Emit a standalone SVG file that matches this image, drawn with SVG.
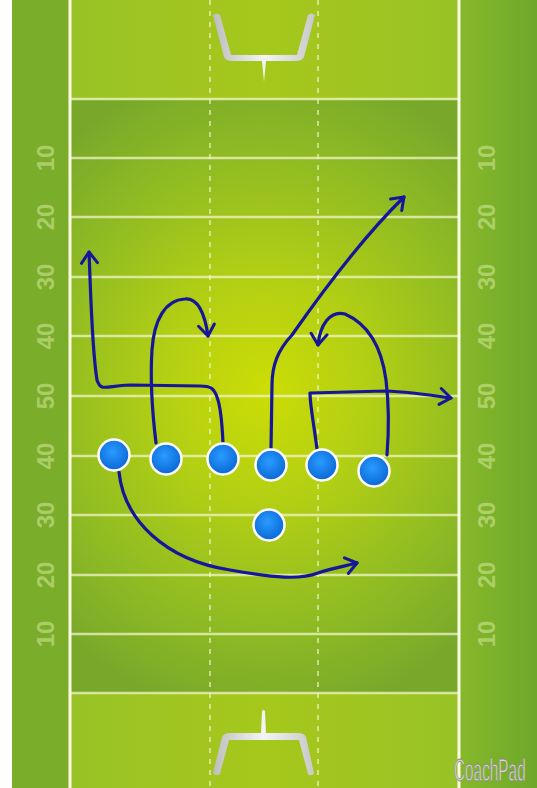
<svg xmlns="http://www.w3.org/2000/svg" width="537" height="788" viewBox="0 0 537 788">
<defs>
  <radialGradient id="fieldG" gradientUnits="userSpaceOnUse" cx="265" cy="390" r="330" gradientTransform="translate(265 390) scale(0.9 1) translate(-265 -390)">
    <stop offset="0" stop-color="#ccdd06"/>
    <stop offset="0.35" stop-color="#b2cf14"/>
    <stop offset="0.75" stop-color="#8cb924"/>
    <stop offset="1" stop-color="#78a82a"/>
  </radialGradient>
  <linearGradient id="endG" x1="0" y1="0" x2="1" y2="0">
    <stop offset="0" stop-color="#98c226"/>
    <stop offset="0.5" stop-color="#a6c81c"/>
    <stop offset="1" stop-color="#98c226"/>
  </linearGradient>
  <linearGradient id="rightG" x1="0" y1="0" x2="1" y2="0">
    <stop offset="0" stop-color="#86b82a"/>
    <stop offset="1" stop-color="#6ea82a"/>
  </linearGradient>
  <radialGradient id="ballG" cx="0.45" cy="0.4" r="0.6">
    <stop offset="0" stop-color="#2a9bff"/>
    <stop offset="1" stop-color="#0a68d6"/>
  </radialGradient>
  <linearGradient id="postG" x1="0" y1="0" x2="1" y2="0">
    <stop offset="0" stop-color="#bdbdbd"/>
    <stop offset="0.5" stop-color="#f4f4f4"/>
    <stop offset="1" stop-color="#c8c8c8"/>
  </linearGradient>
  <marker id="arr" viewBox="0 0 20 20" refX="14" refY="10" markerWidth="20" markerHeight="20" markerUnits="userSpaceOnUse" orient="auto">
    <path d="M3,2 L14,10 L3,18" fill="none" stroke="#16169a" stroke-width="3" stroke-linecap="round" stroke-linejoin="round"/>
  </marker>
</defs>
<style>
  .yl { stroke: #f2f4c8; stroke-opacity: 0.75; stroke-width: 2.5; }
  .side { stroke: #fbfbe6; stroke-width: 3; }
  .hash { stroke: #f4f6d0; stroke-opacity: 0.6; stroke-width: 2; stroke-dasharray: 5 6; }
  .num { font-family: "Liberation Sans Narrow", "Liberation Sans", sans-serif; font-weight: bold; font-size: 24px; fill: #d8eaa0; fill-opacity: 0.55; text-anchor: middle; }
  .route { fill: none; stroke: #16169a; stroke-width: 3.2; stroke-linecap: round; stroke-linejoin: round; }
  .player circle { fill: url(#ballG); stroke: #ffffff; stroke-width: 2.5; }
  .post { fill: url(#postG); }
</style>

<!-- background -->
<rect x="0" y="0" width="537" height="788" fill="#ffffff"/>
<rect x="12" y="0" width="58" height="788" fill="#7aad2a"/>
<rect x="460" y="0" width="77" height="788" fill="url(#rightG)"/>
<rect x="70" y="0" width="390" height="100" fill="url(#endG)"/>
<rect x="70" y="693" width="390" height="95" fill="url(#endG)"/>
<rect x="70" y="100" width="390" height="593" fill="url(#fieldG)"/>

<!-- hash lines -->
<line class="hash" x1="210" y1="0" x2="210" y2="788"/>
<line class="hash" x1="318" y1="0" x2="318" y2="788"/>

<!-- yard lines -->
<g>
  <line class="yl" x1="70" y1="99" x2="460" y2="99"/>
  <line class="yl" x1="70" y1="158" x2="460" y2="158"/>
  <line class="yl" x1="70" y1="217" x2="460" y2="217"/>
  <line class="yl" x1="70" y1="277" x2="460" y2="277"/>
  <line class="yl" x1="70" y1="336" x2="460" y2="336"/>
  <line class="yl" x1="70" y1="396" x2="460" y2="396"/>
  <line class="yl" x1="70" y1="456" x2="460" y2="456"/>
  <line class="yl" x1="70" y1="515" x2="460" y2="515"/>
  <line class="yl" x1="70" y1="575" x2="460" y2="575"/>
  <line class="yl" x1="70" y1="634" x2="460" y2="634"/>
  <line class="yl" x1="70" y1="693" x2="460" y2="693"/>
</g>

<!-- sidelines -->
<line class="side" x1="70" y1="0" x2="70" y2="788"/>
<line class="side" x1="459" y1="0" x2="459" y2="788"/>

<!-- yard numbers -->
<g>
  <text class="num" transform="translate(54 158) rotate(-90)">10</text>
  <text class="num" transform="translate(54 217) rotate(-90)">20</text>
  <text class="num" transform="translate(54 277) rotate(-90)">30</text>
  <text class="num" transform="translate(54 336) rotate(-90)">40</text>
  <text class="num" transform="translate(54 396) rotate(-90)">50</text>
  <text class="num" transform="translate(54 456) rotate(-90)">40</text>
  <text class="num" transform="translate(54 515) rotate(-90)">30</text>
  <text class="num" transform="translate(54 575) rotate(-90)">20</text>
  <text class="num" transform="translate(54 634) rotate(-90)">10</text>
  <text class="num" transform="translate(495 158) rotate(-90)">10</text>
  <text class="num" transform="translate(495 217) rotate(-90)">20</text>
  <text class="num" transform="translate(495 277) rotate(-90)">30</text>
  <text class="num" transform="translate(495 336) rotate(-90)">40</text>
  <text class="num" transform="translate(495 396) rotate(-90)">50</text>
  <text class="num" transform="translate(495 456) rotate(-90)">40</text>
  <text class="num" transform="translate(495 515) rotate(-90)">30</text>
  <text class="num" transform="translate(495 575) rotate(-90)">20</text>
  <text class="num" transform="translate(495 634) rotate(-90)">10</text>
</g>

<!-- goalposts -->
<g id="goal-top">
  <path class="post" d="M213,15 Q216,12 220,15 L231,55 L297,55 L308,15 Q312,12 315,15 L304,57 Q302,61 296,61 L266,61 L264,82 L262,61 L232,61 Q226,61 224,57 Z"/>
</g>
<g id="goal-bottom">
  <path class="post" d="M262,711 Q263,709 265,711 L266,733 L298,733 Q304,733 306,737 L314,773 Q312,777 308,774 L299,740 L229,740 L220,774 Q216,777 213,773 L222,737 Q224,733 230,733 L261,733 Z"/>
</g>

<!-- routes -->
<g id="connectors">
  <path class="route" marker-end="url(#arr)" d="M119,472 C124,520 165,560 230,570 C275,578 300,580 318,573 C330,569 345,566 357,563"/>
  <path class="route" marker-end="url(#arr)" d="M156,443 C152,410 150,380 152,350 C154,320 165,300 185,299 C198,298 205,315 208,336"/>
  <path class="route" marker-end="url(#arr)" d="M223,443 C222,420 220,405 217,397 C214,388 210,386 200,386 L130,385 C105,386 101,392 97,380 C92,350 91,300 89,252"/>
  <path class="route" marker-end="url(#arr)" d="M271,449 L272,385 C272,365 278,350 292,335 C320,295 360,240 404,197"/>
  <path class="route" marker-end="url(#arr)" d="M317,449 C314,425 310,405 310,393 L385,391 C410,392 430,395 451,398"/>
  <path class="route" marker-end="url(#arr)" d="M387,455 C389,430 389,405 386,380 C382,350 370,325 345,314 C330,310 320,325 318,345"/>
</g>

<!-- players -->
<g id="p1" class="player"><circle cx="114" cy="455" r="15.5"/></g>
<g id="p2" class="player"><circle cx="166" cy="459" r="15.5"/></g>
<g id="p3" class="player"><circle cx="223" cy="459" r="15.5"/></g>
<g id="p4" class="player"><circle cx="271" cy="465" r="15.5"/></g>
<g id="p5" class="player"><circle cx="322" cy="465" r="15.5"/></g>
<g id="p6" class="player"><circle cx="374" cy="471" r="15.5"/></g>
<g id="p7" class="player"><circle cx="269" cy="525" r="15.5"/></g>

<!-- logo -->
<text transform="translate(454 781) scale(0.48 1)" font-family="Liberation Sans, sans-serif" font-size="32" fill="#d6d8cc" stroke="#8a8a80" stroke-width="0.8">CoachPad</text>
</svg>
